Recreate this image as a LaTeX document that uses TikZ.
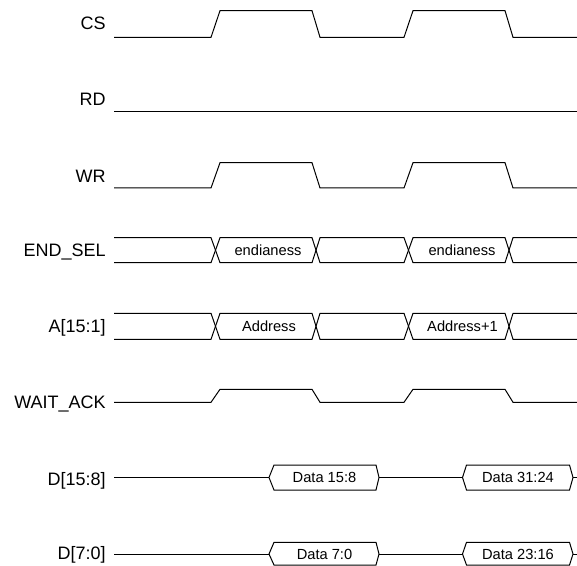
\documentclass[tikz,border=0pt]{standalone}
\usepackage{fontspec}
\setmainfont{Liberation Sans}
\begin{document}
\begin{tikzpicture}[x=0.75pt,y=-0.75pt,
  sig/.style={line width=0.75pt, black, line join=miter},
  lbl/.style={anchor=base east, inner sep=0pt, font=\fontsize{13.5}{16}\selectfont},
  btxt/.style={anchor=base, inner sep=0pt, font=\fontsize{11}{13}\selectfont}]
\useasboundingbox (0,0) rectangle (577,566);

% labels
\node[lbl] (lcs)  at (106,29.3)  {CS};
\node[lbl] (lrd)  at (106,106)   {RD};
\node[lbl] (lwr)  at (106,183)   {WR};
\node[lbl] (lend) at (106,256.5) {END\_SEL};
\node[lbl] (la)   at (106,332.8) {A[15:1]};
\node[lbl] (lwa)  at (106,408.3) {WAIT\_ACK};
\node[lbl] (ldh)  at (106,485)   {D[15:8]};
\node[lbl] (ldl)  at (106,559.3) {D[7:0]};

% CS
\draw[sig] (114,37.3) -- (211,37.3) -- (220,10.7) -- (312,10.7) -- (320,37.3) -- (404,37.3) -- (413,10.7) -- (505,10.7) -- (513,37.3) -- (577,37.3);
% RD
\draw[sig] (114,112) -- (577,112);
% WR
\draw[sig] (114,188) -- (211,188) -- (220,162.7) -- (312,162.7) -- (320,188) -- (404,188) -- (413,162.7) -- (505,162.7) -- (513,188) -- (577,188);

% END_SEL bus
\draw[sig] (114,237.7) -- (211,237.7) -- (220,262.7) -- (312,262.7) -- (320,237.7) -- (404,237.7) -- (413,262.7) -- (505,262.7) -- (513,237.7) -- (577,237.7);
\draw[sig] (114,262.7) -- (211,262.7) -- (220,237.7) -- (312,237.7) -- (320,262.7) -- (404,262.7) -- (413,237.7) -- (505,237.7) -- (513,262.7) -- (577,262.7);
\node[btxt] (e1) at (268,255.4) {endianess};
\node[btxt] (e2) at (462,255.4) {endianess};

% A[15:1] bus
\draw[sig] (114,313.3) -- (211,313.3) -- (220,339.3) -- (312,339.3) -- (320,313.3) -- (404,313.3) -- (413,339.3) -- (505,339.3) -- (513,313.3) -- (577,313.3);
\draw[sig] (114,339.3) -- (211,339.3) -- (220,313.3) -- (312,313.3) -- (320,339.3) -- (404,339.3) -- (413,313.3) -- (505,313.3) -- (513,339.3) -- (577,339.3);
\node[btxt] (a1) at (269,331.6) {Address};
\node[btxt] (a2) at (462.5,331.6) {Address+1};

% WAIT_ACK
\draw[sig] (114,402.3) -- (211,402.3) -- (220,389.3) -- (312,389.3) -- (320,402.3) -- (404,402.3) -- (413,389.3) -- (505,389.3) -- (513,402.3) -- (577,402.3);

% D[15:8]
\draw[sig] (114,477.5) -- (269,477.5);
\draw[sig] (269,477.5) -- (274,465) -- (376,465) -- (379,477.5) -- (376,490) -- (274,490) -- cycle;
\draw[sig] (379,477.5) -- (462.5,477.5);
\draw[sig] (462.5,477.5) -- (466.5,465) -- (569.5,465) -- (573,477.5) -- (569.5,490) -- (466.5,490) -- cycle;
\draw[sig] (573,477.5) -- (577,477.5);
\node[btxt] (dh1) at (324.5,482.7) {Data 15:8};
\node[btxt] (dh2) at (518,482.7) {Data 31:24};

% D[7:0]
\draw[sig] (114,554) -- (269,554);
\draw[sig] (269,554) -- (274,542.3) -- (376,542.3) -- (379,554) -- (376,565) -- (274,565) -- cycle;
\draw[sig] (379,554) -- (462.5,554);
\draw[sig] (462.5,554) -- (466.5,542.3) -- (569.5,542.3) -- (573,554) -- (569.5,565) -- (466.5,565) -- cycle;
\draw[sig] (573,554) -- (577,554);
\node[btxt] (dl1) at (324.5,559.2) {Data 7:0};
\node[btxt] (dl2) at (518,559.2) {Data 23:16};
\end{tikzpicture}
\end{document}
